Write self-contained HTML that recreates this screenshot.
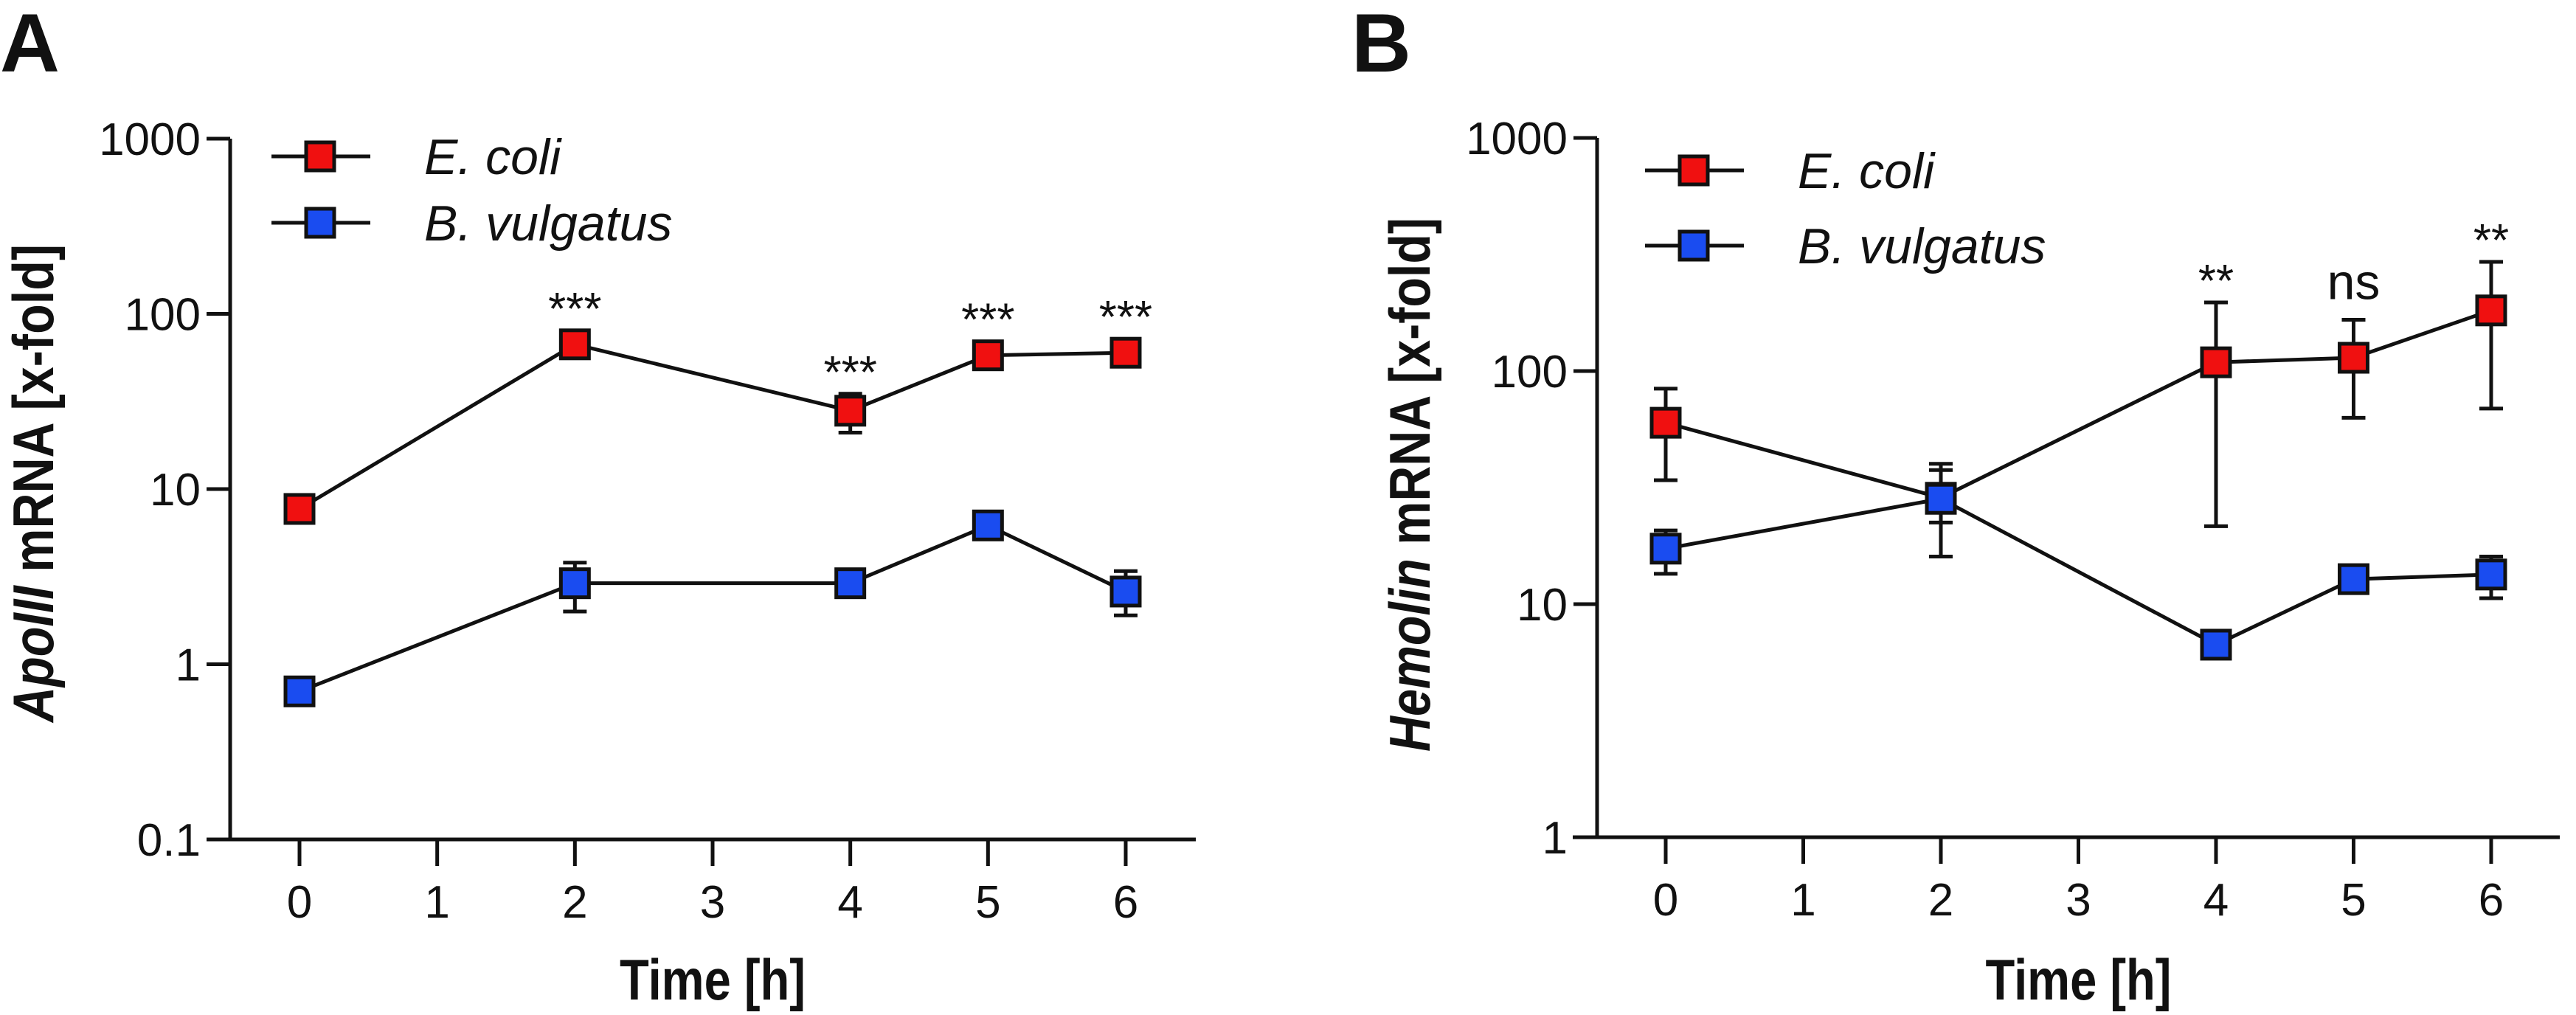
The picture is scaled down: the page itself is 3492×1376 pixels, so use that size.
<!DOCTYPE html>
<html><head><meta charset="utf-8"><style>
html,body{margin:0;padding:0;background:#fff;}
svg{display:block;}
text{font-family:"Liberation Sans",Arial,sans-serif;fill:#111;}
</style></head><body>
<svg id="fig" width="3492" height="1376" viewBox="0 0 3492 1376" xmlns="http://www.w3.org/2000/svg">
<text x="0" y="97" font-size="112" font-weight="bold">A</text>
<text x="1832" y="97" font-size="112" font-weight="bold">B</text>
</svg>
<script>
const timeCats = [0,1,2,3,4,5,6];
const sampleTimes = [0,2,4,5,6];
// Panel A (ApoIII)
const aEcoli = [7.7,67,28,58,60];
const aEcoliHi = [8.3,72,35,63,64];
const aEcoliLo = [7.2,62,21,52,56];
const aBvul = [0.70,2.9,2.9,6.2,2.6];
const aBvulHi = [0.74,3.8,3.2,6.9,3.4];
const aBvulLo = [0.66,2.0,2.6,5.5,1.9];
const aSig = ["","***","***","***","***"];
const aTicks = [0.1,1,10,100,1000];
const aTickLabels = ["0.1","1","10","100","1000"];
// Panel B (Hemolin)
const bEcoli = [60,28.6,109,114,182];
const bEcoliHi = [84,40,197,166,294];
const bEcoliLo = [34,16,21.6,63,69];
const bBvul = [17.3,28.3,6.7,12.8,13.4];
const bBvulHi = [20.7,37.6,7.3,14,16];
const bBvulLo = [13.5,22.4,6.2,11.7,10.6];
const bSig = ["","","**","ns","**"];
const bTicks = [1,10,100,1000];
const bTickLabels = ["1","10","100","1000"];

const NS="http://www.w3.org/2000/svg";
const svg=document.getElementById('fig');
function mk(tag,attrs,parent){const e=document.createElementNS(NS,tag);for(const k in attrs)e.setAttribute(k,attrs[k]);(parent||svg).appendChild(e);return e;}

function panel(cfg){
  const g=mk('g',{});
  
  
  const xS=t=>cfg.x0+(cfg.x6-cfg.x0)*t/6;
  const yS=v=>cfg.yBottom-(Math.log10(v)-Math.log10(cfg.yMin))*cfg.decade;
  const yTop=yS(cfg.yMax);
  const ya=mk('line',{x1:cfg.ax,y1:yTop,x2:cfg.ax,y2:cfg.yBottom,stroke:'#111','stroke-width':5},g);
  
  
  const xa=mk('line',{x1:cfg.xaStart,y1:cfg.yBottom,x2:cfg.xaEnd,y2:cfg.yBottom,stroke:'#111','stroke-width':5},g);
  
  
  cfg.ticks.forEach((v,i)=>{
    const y=yS(v);
    mk('line',{x1:cfg.ax-32,y1:y,x2:cfg.ax,y2:y,stroke:'#111','stroke-width':5},g);
    const t=mk('text',{x:cfg.ax-40,y:y+22,'font-size':62,'text-anchor':'end'},g);
    t.textContent=cfg.tickLabels[i];
    
    
  });
  timeCats.forEach(c=>{
    const x=xS(c);
    mk('line',{x1:x,y1:cfg.yBottom,x2:x,y2:cfg.yBottom+36,stroke:'#111','stroke-width':5},g);
    const t=mk('text',{x:x,y:cfg.yBottom+106,'font-size':62,'text-anchor':'middle'},g);
    t.textContent=String(c);
    
    
  });
  const xt=mk('text',{x:xS(3),y:1355,'font-size':78,'font-weight':'bold','text-anchor':'middle',textLength:252,lengthAdjust:'spacingAndGlyphs'},g);
  xt.textContent='Time [h]';
  
  
  const yt=mk('text',{x:0,y:0,'font-size':78,'font-weight':'bold','text-anchor':'middle',textLength:cfg.ylabLen,lengthAdjust:'spacingAndGlyphs',transform:`translate(${cfg.ylabX},${cfg.ylabY}) rotate(-90)`},g);
  const ti=mk('tspan',{'font-style':'italic'},yt);ti.textContent=cfg.gene;
  const tr=mk('tspan',{},yt);tr.textContent=' mRNA [x-fold]';
  
  
  const series=[
    {name:'e-coli',vals:cfg.e,hi:cfg.eHi,lo:cfg.eLo,color:'#f01010'},
    {name:'b-vulgatus',vals:cfg.b,hi:cfg.bHi,lo:cfg.bLo,color:'#1a4cf0'}
  ];
  series.forEach(s=>{
    const pts=sampleTimes.map((t,i)=>xS(t)+','+yS(s.vals[i])).join(' ');
    const pl=mk('polyline',{points:pts,fill:'none',stroke:'#111','stroke-width':5},g);
    
    
  });
  series.forEach(s=>{
    sampleTimes.forEach((t,i)=>{
      const x=xS(t),yh=yS(s.hi[i]),yl=yS(s.lo[i]);
      const eb=mk('path',{d:`M${x},${yh}V${yl}M${x-16},${yh}H${x+16}M${x-16},${yl}H${x+16}`,stroke:'#111','stroke-width':5,fill:'none'},g);
      
      
    });
  });
  series.forEach(s=>{
    sampleTimes.forEach((t,i)=>{
      const x=xS(t),y=yS(s.vals[i]);
      const r=mk('rect',{x:x-19,y:y-19,width:38,height:38,fill:s.color,stroke:'#111','stroke-width':5},g);
      
      
    });
  });
  cfg.sig.forEach((lab,i)=>{
    if(!lab)return;
    const x=xS(sampleTimes[i]);
    const top=Math.min(yS(cfg.eHi[i]),yS(cfg.e[i])-19);
    const isNs=lab==='ns';
    const t=mk('text',{x:x,y:isNs?top-28:top-8,'font-size':isNs?68:62,'text-anchor':'middle'},g);
    t.textContent=lab;
    
    
  });
  [['e-coli','E. coli','#f01010',cfg.legY1],['b-vulgatus','B. vulgatus','#1a4cf0',cfg.legY2]].forEach(L=>{
    const lg=mk('g',{},g);
    
    
    mk('line',{x1:cfg.legX,y1:L[3],x2:cfg.legX+134,y2:L[3],stroke:'#111','stroke-width':5},lg);
    mk('rect',{x:cfg.legX+47,y:L[3]-19,width:38,height:38,fill:L[2],stroke:'#111','stroke-width':5},lg);
    const t=mk('text',{x:cfg.legX+207,y:L[3]+24,'font-size':68,'font-style':'italic'},lg);
    t.textContent=L[1];
  });
}

panel({id:'panel-a',gene:'ApoIII',x0:406,x6:1526,ax:312,xaStart:280,xaEnd:1621,yBottom:1138,yMin:0.1,yMax:1000,decade:237.5,
  ticks:aTicks,tickLabels:aTickLabels,e:aEcoli,eHi:aEcoliHi,eLo:aEcoliLo,b:aBvul,bHi:aBvulHi,bLo:aBvulLo,sig:aSig,
  ylabX:72,ylabY:655,ylabLen:648,legX:368,legY1:212,legY2:302});
panel({id:'panel-b',gene:'Hemolin',x0:2258,x6:3377,ax:2165,xaStart:2132,xaEnd:3470,yBottom:1135,yMin:1,yMax:1000,decade:316,
  ticks:bTicks,tickLabels:bTickLabels,e:bEcoli,eHi:bEcoliHi,eLo:bEcoliLo,b:bBvul,bHi:bBvulHi,bLo:bBvulLo,sig:bSig,
  ylabX:1938,ylabY:657,ylabLen:724,legX:2230,legY1:231,legY2:333});
</script>
</body></html>
